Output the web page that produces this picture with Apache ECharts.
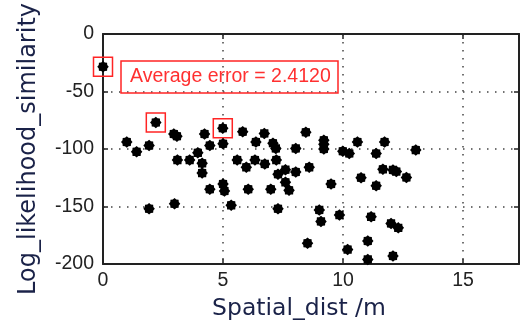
<!DOCTYPE html>
<html>
<head>
<meta charset="utf-8">
<script src="https://cdn.jsdelivr.net/npm/echarts@6/dist/echarts.min.js"></script>
<style>
  html, body { margin: 0; padding: 0; background: #fff; }
  #chart { width: 527px; height: 330px; }
</style>
</head>
<body>
<div id="chart"></div>
<script>
// spatial distance (m) vs log likelihood similarity
const spatialDist = [
  0.0, 2.2, 4.99, 0.99, 1.4, 1.92, 2.95, 3.08, 4.23, 4.45,
  5.0, 5.82, 6.37, 6.72, 7.08, 7.2, 8.03, 8.45, 9.2, 9.2,
  9.2, 9.99, 10.26, 10.6, 11.38, 11.73, 13.03, 3.1, 3.61, 3.95,
  4.13, 4.13, 4.45, 5.0, 5.06, 5.34, 5.59, 5.97, 6.05, 6.33,
  6.74, 6.99, 7.22, 7.29, 7.6, 7.6, 7.75, 7.29, 8.03, 8.59,
  9.5, 10.75, 11.38, 11.66, 12.08, 12.22, 12.64, 9.01, 9.08, 9.85,
  8.52, 10.19, 11.03, 11.03, 12.08, 11.17, 12.0, 12.3, 1.92, 2.98
];
const logSimilarity = [
  -28.5, -77, -82, -94, -102.5, -97, -87, -89, -87, -97,
  -95.5, -85, -94, -86.5, -95, -99.5, -99.5, -85.5, -92.5, -96,
  -100, -102, -104, -94, -104, -94, -101, -109.7, -109.7, -103.4,
  -112.5, -121, -135, -130.5, -136.5, -149, -109.7, -116, -135, -109.7,
  -113, -135, -109.7, -122, -118, -129, -136, -152, -120, -116,
  -130.5, -125, -132, -117.7, -118.2, -119.7, -124.8, -153, -163, -157.5,
  -182, -187.5, -180, -196, -193, -159, -164.7, -168.6, -152, -147.6
];
// points highlighted with a red square
const markedIdx = [0, 1, 2];
const xTickLabels = [0, 5, 10, 15];
const yTickLabels = [-200, -150, -100, -50, 0];
const xMax = 17.33;
const avgError = 2.4120;

const points = spatialDist.map((d, i) => [d, logSimilarity[i]]);
const marked = markedIdx.map(i => points[i]);

// spiky round marker, like the matlab one
function starPath(n, inner) {
  let d = '';
  for (let i = 0; i < 2 * n; i++) {
    const r = i % 2 ? inner : 1;
    const a = Math.PI * i / n;
    d += (i ? 'L' : 'M') + (r * Math.cos(a)).toFixed(3) + ' ' + (r * Math.sin(a)).toFixed(3);
  }
  return 'path://' + d + 'Z';
}

const frameColor = '#222';
const labelFont = 'Liberation Sans, Arial, sans-serif';
const nameColor = '#1a2248';

const gridLine = { show: true, lineStyle: { type: [1.5, 6.5], color: '#444', width: 1.5 } };
const frameAxis = {
  axisLine: { show: true, onZero: false, lineStyle: { color: frameColor, width: 2 } },
  axisTick: { show: true, inside: true, length: 5, lineStyle: { color: frameColor, width: 1.5 } },
};

const xStep = xTickLabels[1] - xTickLabels[0];
const yStep = yTickLabels[1] - yTickLabels[0];

const chart = echarts.init(document.getElementById('chart'));
chart.setOption({
  animation: false,
  backgroundColor: '#fff',
  title: {
    text: 'Average error = ' + avgError.toFixed(4),
    left: 121,
    top: 61,
    padding: [6, 8, 6, 9],
    borderColor: '#ff2424',
    borderWidth: 1.5,
    textStyle: { color: '#ff3030', fontSize: 19.5, fontWeight: 'normal', fontFamily: labelFont },
  },
  grid: { left: 103, right: 8, top: 30, bottom: 66 },
  xAxis: [
    {
      type: 'value',
      min: xTickLabels[0],
      max: xMax,
      interval: xStep,
      ...frameAxis,
      axisLabel: { margin: 7, fontSize: 19.5, fontFamily: labelFont, color: '#222', showMaxLabel: false },
      splitLine: gridLine,
      name: 'Spatial_dist /m',
      nameLocation: 'middle',
      nameGap: 33,
      nameTextStyle: { color: nameColor, fontSize: 23.5, fontFamily: 'DejaVu Sans', padding: [0, 24, 0, 0] },
    },
    {
      type: 'value',
      position: 'top',
      min: xTickLabels[0],
      max: xMax,
      interval: xStep,
      ...frameAxis,
      axisLabel: { show: false },
      splitLine: { show: false },
    },
  ],
  yAxis: [
    {
      type: 'value',
      min: yTickLabels[0],
      max: yTickLabels[yTickLabels.length - 1],
      interval: yStep,
      ...frameAxis,
      axisLabel: { margin: 9, fontSize: 19.5, fontFamily: labelFont, color: '#222' },
      splitLine: gridLine,
      name: 'Log_likelihood_similarity',
      nameLocation: 'middle',
      nameGap: 62,
      nameTextStyle: { color: nameColor, fontSize: 24, fontFamily: 'DejaVu Sans' },
    },
    {
      type: 'value',
      position: 'right',
      min: yTickLabels[0],
      max: yTickLabels[yTickLabels.length - 1],
      interval: yStep,
      ...frameAxis,
      axisLabel: { show: false },
      splitLine: { show: false },
    },
  ],
  series: [
    {
      type: 'scatter',
      data: marked,
      symbol: 'rect',
      symbolSize: 19,
      z: 3,
      itemStyle: { color: 'transparent', borderColor: '#ff2424', borderWidth: 1.5, opacity: 1 },
    },
    {
      type: 'scatter',
      data: points,
      symbol: starPath(8, 0.8),
      symbolSize: 11.5,
      z: 4,
      itemStyle: { color: '#000', opacity: 1 },
    },
  ],
});
</script>
</body>
</html>
